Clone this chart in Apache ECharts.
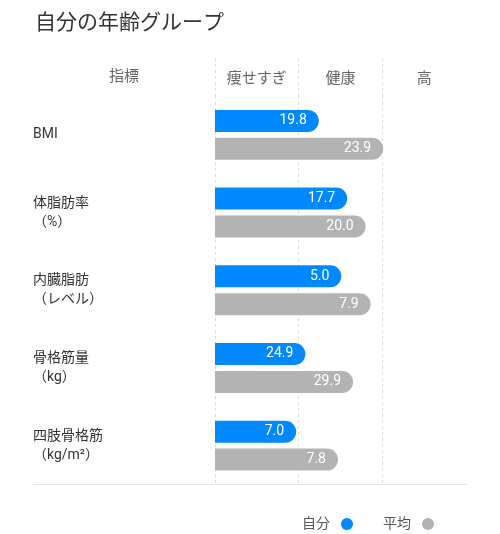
<!DOCTYPE html>
<html>
<head>
<meta charset="utf-8">
<script src="https://cdn.jsdelivr.net/npm/echarts@6/dist/echarts.min.js"></script>
<style>html,body{margin:0;padding:0;background:#fff}#c{width:500px;height:534px}</style>
</head>
<body>
<div id="c"></div>
<script>
var categories = ['BMI', '体脂肪率\n（%）', '内臓脂肪\n（レベル）', '骨格筋量\n（kg）', '四肢骨格筋\n（kg/m²）'];
var zoneLabels = ['痩せすぎ', '健康', '高'];
var selfValues = [19.8, 17.7, 5.0, 24.9, 7.0];
var avgValues = [23.9, 20.0, 7.9, 29.9, 7.8];
// bar length in zone units (0-3: 痩せすぎ / 健康 / 高)
var selfPos = [1.24, 1.58, 1.51, 1.08, 0.97];
var avgPos = [2.01, 1.80, 1.86, 1.65, 1.47];

var chart = echarts.init(document.getElementById('c'));
var font = "Roboto, 'Noto Sans CJK JP', sans-serif";
var split = { show: true, showMaxLine: false, lineStyle: { color: '#dcdcdc', type: [3, 3], width: 1 } };
chart.setOption({
  animation: false,
  textStyle: { fontFamily: font },
  title: { text: '自分の年齢グループ', left: 30, top: 8, textStyle: { fontSize: 21, fontWeight: 'normal', color: '#333', fontFamily: font } },
  legend: {
    data: ['自分', '平均'], right: 61, top: 512, align: 'right', icon: 'circle',
    itemWidth: 12, itemHeight: 12, itemGap: 30,
    textStyle: { fontSize: 14, color: '#555', fontFamily: font, padding: [0, 6, 0, 0] }
  },
  grid: [
    { left: 215, right: 34, top: 58, height: 38 },
    { left: 215, right: 34, top: 96, bottom: 49.5 }
  ],
  xAxis: [
    { gridIndex: 0, type: 'value', min: 0, max: 3, interval: 1, splitLine: split, axisLabel: { show: false }, axisLine: { show: false }, axisTick: { show: false } },
    { gridIndex: 0, type: 'category', data: zoneLabels, position: 'top', axisLine: { show: false }, axisTick: { show: false }, splitLine: { show: false },
      axisLabel: { inside: true, margin: 14, fontSize: 15, color: '#666', fontFamily: font } },
    { gridIndex: 1, type: 'value', min: 0, max: 3, interval: 1, splitLine: split, axisLabel: { show: false }, axisLine: { show: false }, axisTick: { show: false } }
  ],
  yAxis: [
    { gridIndex: 0, type: 'category', data: ['指標'], axisLine: { show: false }, axisTick: { show: false },
      axisLabel: { align: 'center', margin: 91, fontSize: 15, color: '#666', fontFamily: font, padding: [4, 0, 0, 0], backgroundColor: 'rgba(255,255,255,0)' } },
    { gridIndex: 1, type: 'category', data: categories, inverse: true, axisLine: { show: false }, axisTick: { show: false },
      axisLabel: { align: 'left', margin: 182, fontSize: 14, color: '#333', lineHeight: 19, fontFamily: font, padding: [7, 0, 0, 0], backgroundColor: 'rgba(255,255,255,0)' } }
  ],
  series: [
    { name: '自分', type: 'bar', xAxisIndex: 2, yAxisIndex: 1, data: selfPos, barWidth: 22, barGap: '27%',
      itemStyle: { color: '#0088ff', borderRadius: [0, 11, 11, 0] },
      label: { show: true, position: 'insideRight', distance: 12, color: '#fff', fontSize: 14, fontFamily: font,
        formatter: function (p) { return selfValues[p.dataIndex].toFixed(1); } } },
    { name: '平均', type: 'bar', xAxisIndex: 2, yAxisIndex: 1, data: avgPos, barWidth: 22,
      itemStyle: { color: '#b3b3b3', borderRadius: [0, 11, 11, 0] },
      label: { show: true, position: 'insideRight', distance: 12, color: '#fff', fontSize: 14, fontFamily: font,
        formatter: function (p) { return avgValues[p.dataIndex].toFixed(1); } } }
  ],
  graphic: [
    { type: 'line', shape: { x1: 33, y1: 484.5, x2: 467, y2: 484.5 }, style: { stroke: '#e3e3e3', lineWidth: 1 } }
  ]
});
</script>
</body>
</html>
